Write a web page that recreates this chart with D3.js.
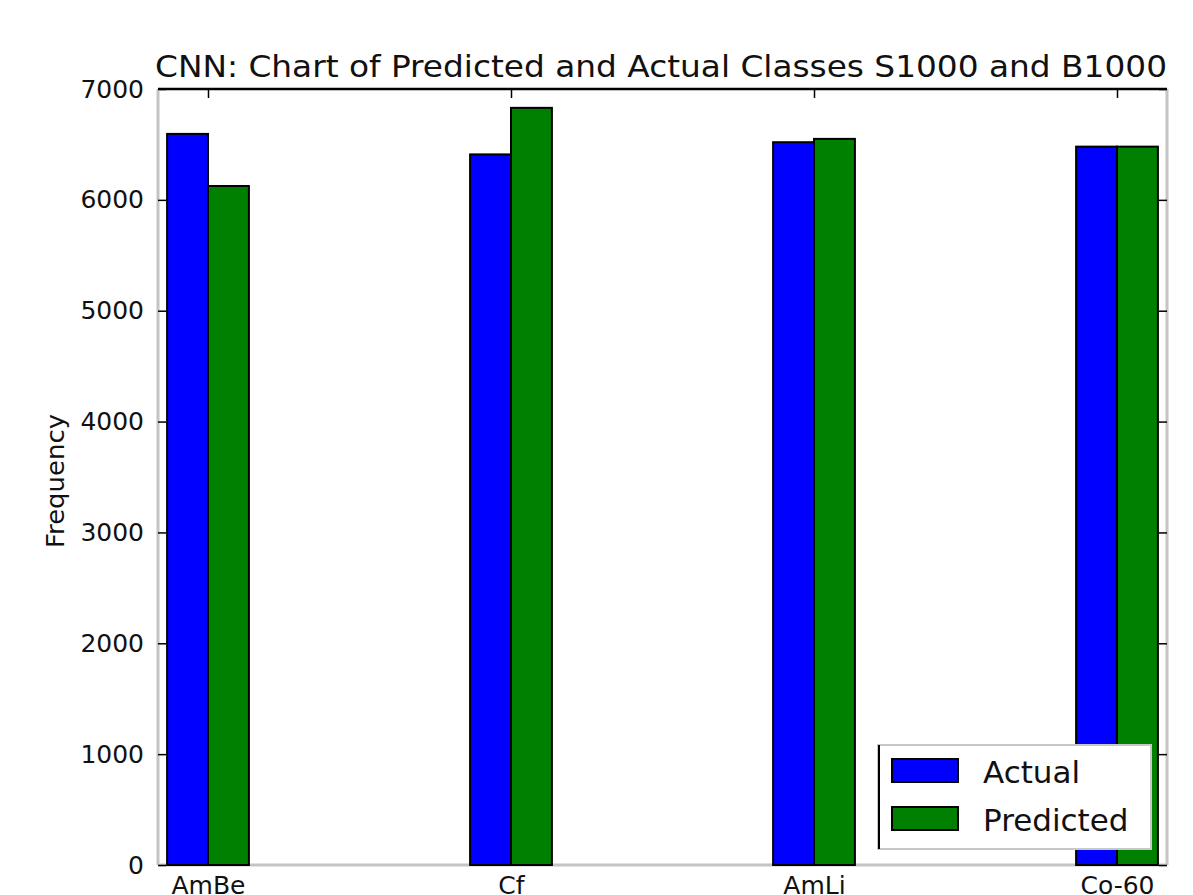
<!DOCTYPE html>
<html>
<head>
<meta charset="utf-8">
<script src="https://cdn.jsdelivr.net/npm/d3@7"></script>
<style>
  html, body { margin: 0; padding: 0; background: #fff; }
  svg { display: block; }
  text { font-family: "DejaVu Sans", sans-serif; fill: #111; }
</style>
</head>
<body>
<svg id="chart" width="1193" height="895"></svg>
<script>
// Source classes and per-class counts
const categories = ["AmBe", "Cf", "AmLi", "Co-60"];
const actualCounts = [6595, 6410, 6520, 6480];
const predictedCounts = [6125, 6830, 6550, 6480];
const seriesNames = ["Actual", "Predicted"];
const seriesColors = ["#0000ff", "#008000"];
const yTicks = [0, 1000, 2000, 3000, 4000, 5000, 6000, 7000];
const titleText = "CNN: Chart of Predicted and Actual Classes S1000 and B1000";
const yLabelText = "Frequency";

const svg = d3.select("#chart");
const plot = { left: 158, right: 1167, top: 89, bottom: 865 };
const barWidth = 0.135;

// Category index scale, padded so outer bars sit close to the frame
const x = d3.scaleLinear()
  .domain([-0.165, categories.length - 1 + 0.165])
  .range([plot.left, plot.right]);
const y = d3.scaleLinear().domain([0, 7000]).range([plot.bottom, plot.top]);

const rows = categories.map((c, i) => ({ c, i, vals: [actualCounts[i], predictedCounts[i]] }));

// Bottom spine drawn first so bars cover it
svg.append("line").attr("x1", plot.left).attr("x2", plot.right)
  .attr("y1", plot.bottom).attr("y2", plot.bottom).attr("stroke", "#c4c4c4").attr("stroke-width", 3);

// Bars: actual to the left of each tick, predicted to the right
const g = svg.append("g");
rows.forEach(r => {
  r.vals.forEach((v, s) => {
    const x0 = x(r.i + (s === 0 ? -barWidth : 0));
    const x1 = x(r.i + (s === 0 ? 0 : barWidth));
    g.append("rect")
      .attr("x", x0).attr("y", y(v))
      .attr("width", x1 - x0).attr("height", y(0) - y(v))
      .attr("fill", seriesColors[s])
      .attr("stroke", "#000").attr("stroke-width", 2);
  });
});

// Remaining frame
svg.append("line").attr("x1", plot.left).attr("x2", plot.right)
  .attr("y1", plot.top).attr("y2", plot.top).attr("stroke", "#000").attr("stroke-width", 2.5);
svg.append("line").attr("x1", plot.left).attr("x2", plot.left)
  .attr("y1", plot.top).attr("y2", plot.bottom).attr("stroke", "#c4c4c4").attr("stroke-width", 3);
svg.append("line").attr("x1", plot.right).attr("x2", plot.right)
  .attr("y1", plot.top).attr("y2", plot.bottom).attr("stroke", "#c4c4c4").attr("stroke-width", 3);

// Y axis (left), ticks pointing inward
const yAxis = d3.axisLeft(y).tickValues(yTicks).tickSize(-8).tickPadding(14).tickFormat(d3.format("d"));
const ya = svg.append("g").attr("transform", `translate(${plot.left},0)`).call(yAxis);
ya.select(".domain").remove();
ya.selectAll(".tick line").attr("stroke", "#000").attr("stroke-width", 1.5);
ya.selectAll(".tick text").style("font-size", "25px").attr("fill", "#111")
  .style("font-family", "DejaVu Sans, sans-serif");

// Y axis (right), ticks only
const yAxisR = d3.axisRight(y).tickValues(yTicks).tickSize(-8).tickFormat("");
const yr = svg.append("g").attr("transform", `translate(${plot.right},0)`).call(yAxisR);
yr.select(".domain").remove();
yr.selectAll(".tick line").attr("stroke", "#000").attr("stroke-width", 1.5);

// Top ticks at each category
const xAxisTop = d3.axisTop(x).tickValues(d3.range(categories.length)).tickSize(-9).tickFormat("");
const xt = svg.append("g").attr("transform", `translate(0,${plot.top})`).call(xAxisTop);
xt.select(".domain").remove();
xt.selectAll(".tick line").attr("stroke", "#000").attr("stroke-width", 1.5);

// Category labels below the frame
const xAxisBottom = d3.axisBottom(x).tickValues(d3.range(categories.length))
  .tickSize(0).tickPadding(11).tickFormat(i => categories[i]);
const xb = svg.append("g").attr("transform", `translate(0,${plot.bottom})`).call(xAxisBottom);
xb.select(".domain").remove();
xb.selectAll(".tick text").style("font-size", "25px").attr("fill", "#111")
  .style("font-family", "DejaVu Sans, sans-serif");

// Title, stretched across the plot width
svg.append("text").attr("x", plot.left - 3).attr("y", 77)
  .attr("text-anchor", "start").style("font-size", "30px")
  .attr("textLength", 1012).attr("lengthAdjust", "spacingAndGlyphs").text(titleText);

// Y label
svg.append("text").attr("transform", "translate(64,481) rotate(-90)")
  .attr("text-anchor", "middle").style("font-size", "24px")
  .attr("textLength", 134).attr("lengthAdjust", "spacingAndGlyphs").text(yLabelText);

// Legend
const lg = svg.append("g").attr("transform", "translate(878,745)");
lg.append("rect").attr("x", 0).attr("y", 0).attr("width", 273).attr("height", 104)
  .attr("fill", "#fff").attr("stroke", "#c8c8c8").attr("stroke-width", 2);
lg.append("line").attr("x1", 1).attr("x2", 1).attr("y1", 0).attr("y2", 104)
  .attr("stroke", "#000").attr("stroke-width", 2);
seriesNames.forEach((name, s) => {
  lg.append("rect").attr("x", 14).attr("y", 14 + s * 48).attr("width", 66).attr("height", 23)
    .attr("fill", seriesColors[s]).attr("stroke", "#000").attr("stroke-width", 2);
  lg.append("text").attr("x", 105).attr("y", 38 + s * 48)
    .style("font-size", "31px").text(name);
});
</script>
</body>
</html>
